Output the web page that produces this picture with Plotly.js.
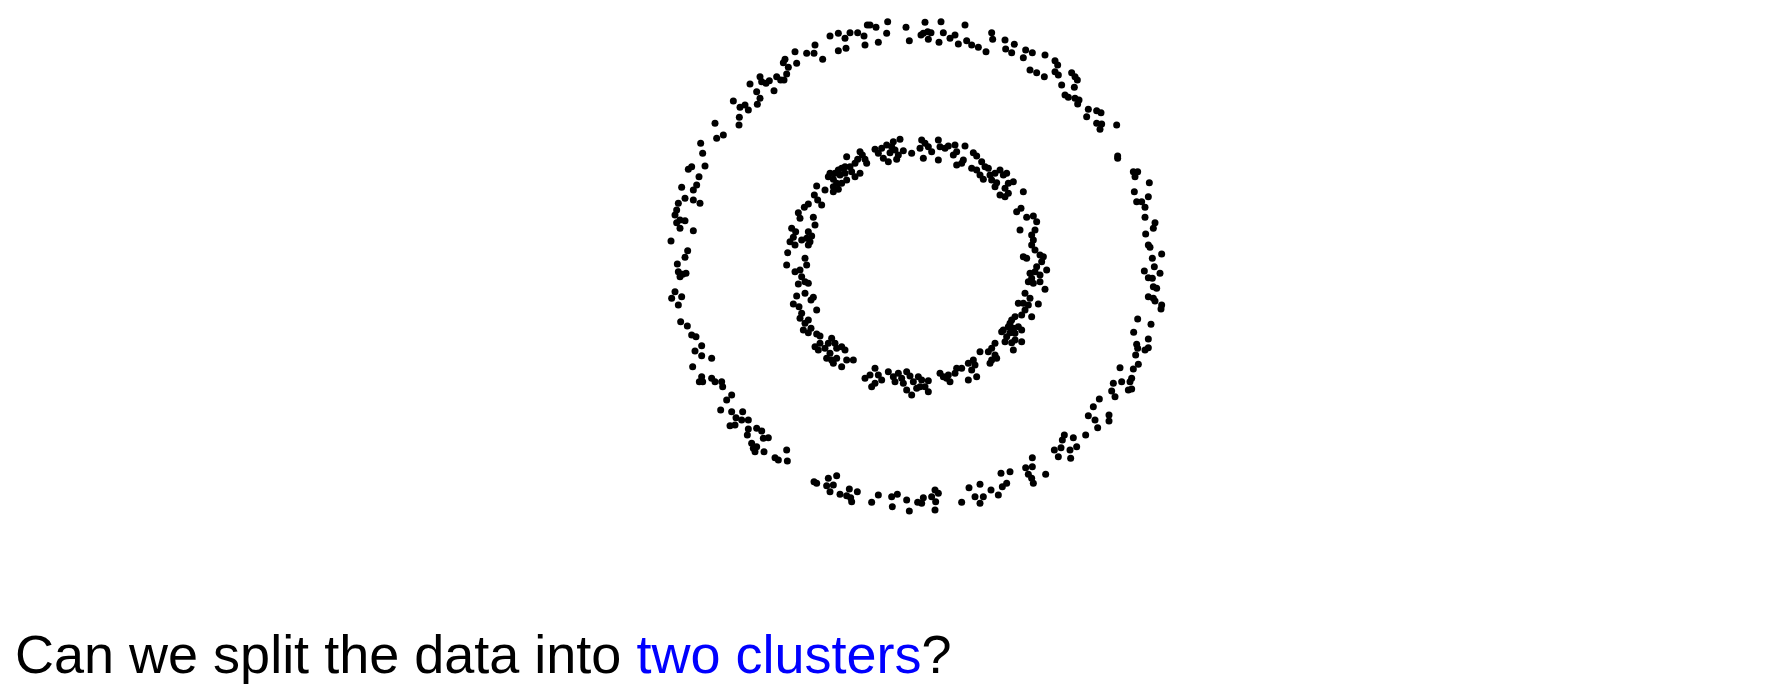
<!DOCTYPE html>
<html>
<head>
<meta charset="utf-8">
<script src="https://cdn.plot.ly/plotly-3.0.1.min.js"></script>
<style>html,body{margin:0;padding:0;background:#fff;}#chart{width:1768px;height:696px;}</style>
</head>
<body>
<div id="chart"></div>
<script>
// Outer ring points (x, y), arbitrary units, centre at (0,0)
const outerX = [
-85,-30,-20,-88,-113,-120,-146,-138,-156,-153,-175,-198,-213,-233,-258,-210,-233,-280,-303,-306,-328,-363,-358,-393,-398,-383,-388,-406,-396,-418,-426,-468,-463,-450,-440,-498,-478,-468,-476,-513,-528,-503,-548,-530,-531,-603,-598,-578,-646,-640,-633,-673,-683,-651,-658,-668,-703,-693,-713,-668,-648,-718,-723,-708,-693,-718,-708,-668,-735,-685,-693,-716,
27,75,147,15,22,35,45,37,69,82,102,117,127,152,167,187,210,227,230,267,269,287,295,322,329,349,387,342,362,385,417,425,417,427,467,477,484,437,475,447,457,477,489,485,517,512,542,555,542,557,552,602,605,605,652,665,657,700,655,662,677,697,687,687,717,712,689,697,702,737,709,
-713,-700,-690,-708,-723,-733,-703,-713,-706,-686,-673,-660,-643,-663,-643,-613,-670,-643,-650,-640,-613,-603,-583,-580,-553,-568,-586,-553,-520,-540,-523,-503,-558,-543,-503,-506,-478,-463,-458,-443,-493,-488,-478,-483,-456,-423,-413,-388,-386,-306,-298,-263,-238,-248,-268,-258,-228,-200,-176,-208,-193,-196,-133,-113,-73,-56,-71,-28,-20,5,
685,697,709,715,732,712,722,697,712,717,737,735,665,705,653,697,662,665,697,687,659,667,612,652,647,642,592,587,617,637,647,597,550,532,517,537,545,579,579,509,445,439,472,482,415,435,427,462,464,349,329,349,337,347,352,389,282,255,272,259,247,225,192,159,177,202,192,137,57,67,47,22,17,59,57
];
const outerY = [
730,713,673,695,668,713,720,720,687,660,697,697,680,695,687,650,643,617,660,635,635,640,605,617,607,593,573,555,555,565,523,565,550,545,553,543,520,500,482,480,473,465,492,443,420,425,380,390,365,335,297,295,287,265,240,225,233,200,185,195,185,165,150,135,133,127,110,103,72,43,23,3,
728,730,720,690,695,700,697,677,668,697,680,690,663,673,660,653,640,697,677,675,648,637,662,622,645,637,630,585,577,565,613,600,580,570,577,565,555,540,533,510,503,500,495,483,467,445,463,457,425,423,407,420,327,320,280,280,265,247,220,190,190,205,173,143,127,110,93,60,53,33,20,
-20,-28,-25,-35,-80,-100,-95,-120,-170,-183,-210,-215,-242,-258,-272,-280,-305,-335,-350,-350,-340,-350,-350,-365,-390,-405,-435,-440,-440,-458,-465,-465,-482,-480,-492,-510,-490,-498,-520,-518,-535,-550,-545,-560,-560,-578,-585,-555,-588,-650,-655,-640,-632,-660,-662,-680,-688,-672,-680,-692,-710,-698,-712,-690,-695,-688,-725,-705,-738,-712,
-18,-38,-40,-5,-25,-65,-70,-95,-100,-108,-120,-132,-162,-178,-202,-222,-238,-250,-248,-255,-270,-298,-308,-312,-340,-350,-355,-378,-350,-375,-372,-395,-402,-425,-452,-465,-488,-450,-468,-510,-510,-525,-518,-545,-555,-548,-575,-555,-580,-578,-608,-605,-628,-640,-655,-628,-620,-625,-655,-665,-690,-675,-658,-668,-695,-695,-715,-712,-675,-685,-695,-698,-715,-710,-735
];
// Inner ring points (x, y), same units
const innerX = [
-48,-68,-73,-63,-78,-88,-103,-123,-113,-98,-83,-58,-53,-38,-13,-153,-148,-168,-161,-175,-183,-208,-213,-198,-223,-233,-243,-258,-263,-248,-228,-213,-193,-168,-183,-208,-223,-238,-248,-233,-248,-273,-298,-305,-295,-283,-323,-335,-353,-348,-308,-303,-373,-361,-368,-378,-363,-323,-313,-328,-318,-323,-343,-385,-388,-333,-328,-348,-363,-343,-333,-323,-353,-358,-333,-308,-315,-368,-351,-298,-343,-348,-323,-333,-338,-323,-315,-298,-288,-288,-303,-293,-253,-263,-243,-238,-223,-213,-273,-258,-268,-253,-238,-248,-223,-208,-188,-153,-138,-123,-113,-123,-133,-103,-83,-68,-63,-53,-43,-28,-18,-38,-28,-13,-8,
17,27,12,37,22,47,67,72,67,87,97,117,122,112,122,147,142,137,172,182,167,182,197,207,192,202,217,222,227,237,242,252,262,237,272,277,292,267,252,267,277,322,315,302,332,352,362,357,312,347,352,347,357,322,332,372,382,377,362,392,357,372,342,347,352,337,372,387,327,342,322,337,307,367,347,327,317,297,287,282,307,292,297,277,262,257,282,317,272,267,287,297,317,292,237,227,217,237,227,222,242,192,172,177,157,167,182,157,137,122,117,97,82,72,92,102,7,17,37,27,12,37,2
];
const innerY = [
377,370,355,345,337,360,350,347,335,320,310,317,330,343,335,317,305,340,330,317,305,325,295,295,290,285,275,275,265,257,270,275,280,275,265,255,245,245,235,227,220,225,237,210,195,180,183,173,157,140,143,120,110,100,83,70,60,100,87,80,70,60,75,37,0,20,0,-15,-20,-35,-50,-55,-57,-93,-85,-97,-105,-117,-125,-135,-145,-160,-165,-175,-195,-203,-190,-207,-213,-235,-245,-255,-220,-235,-235,-250,-245,-255,-250,-265,-280,-285,-280,-295,-305,-285,-285,-340,-330,-310,-330,-355,-365,-345,-320,-335,-350,-325,-340,-320,-333,-355,-375,-390,-350,
375,365,350,355,320,340,375,355,315,350,357,360,340,330,300,357,315,305,337,327,290,285,310,295,270,257,290,270,255,275,247,285,270,235,275,245,250,230,210,205,215,220,170,160,143,147,130,105,105,90,75,60,45,25,20,30,25,10,-5,-15,-20,-30,-25,-40,-55,-50,-50,-73,-85,-100,-115,-120,-115,-117,-155,-135,-150,-155,-165,-175,-185,-190,-205,-185,-195,-200,-203,-195,-215,-230,-233,-225,-230,-255,-235,-250,-260,-270,-285,-295,-280,-260,-285,-300,-295,-315,-335,-345,-310,-310,-325,-330,-335,-325,-340,-350,-335,-345,-347,-365,-365,-380,-370
];
const questionStart = 'Can we split the data into ';
const questionHighlight = 'two clusters';
const questionEnd = '?';

const marker = {color: '#000000', size: 7};
const traces = [
  {type: 'scatter', mode: 'markers', x: outerX, y: outerY, marker: marker, hoverinfo: 'skip'},
  {type: 'scatter', mode: 'markers', x: innerX, y: innerY, marker: marker, hoverinfo: 'skip'}
];
const layout = {
  width: 1768, height: 696,
  margin: {l: 0, r: 0, t: 0, b: 0, pad: 0},
  paper_bgcolor: '#ffffff', plot_bgcolor: '#ffffff',
  showlegend: false,
  xaxis: {range: [-2748, 2556], visible: false, fixedrange: true},
  yaxis: {range: [-1293, 795], visible: false, fixedrange: true},
  annotations: [{
    xref: 'paper', yref: 'paper', x: 0.0074, y: 0.06,
    xanchor: 'left', yanchor: 'middle', showarrow: false,
    text: questionStart + '<span style="color:#0000ff">' + questionHighlight + '</span>' + questionEnd,
    font: {family: 'Liberation Sans, Arial, sans-serif', size: 54, color: '#000000'}
  }]
};
Plotly.newPlot('chart', traces, layout, {displayModeBar: false, staticPlot: true});
</script>
</body>
</html>
